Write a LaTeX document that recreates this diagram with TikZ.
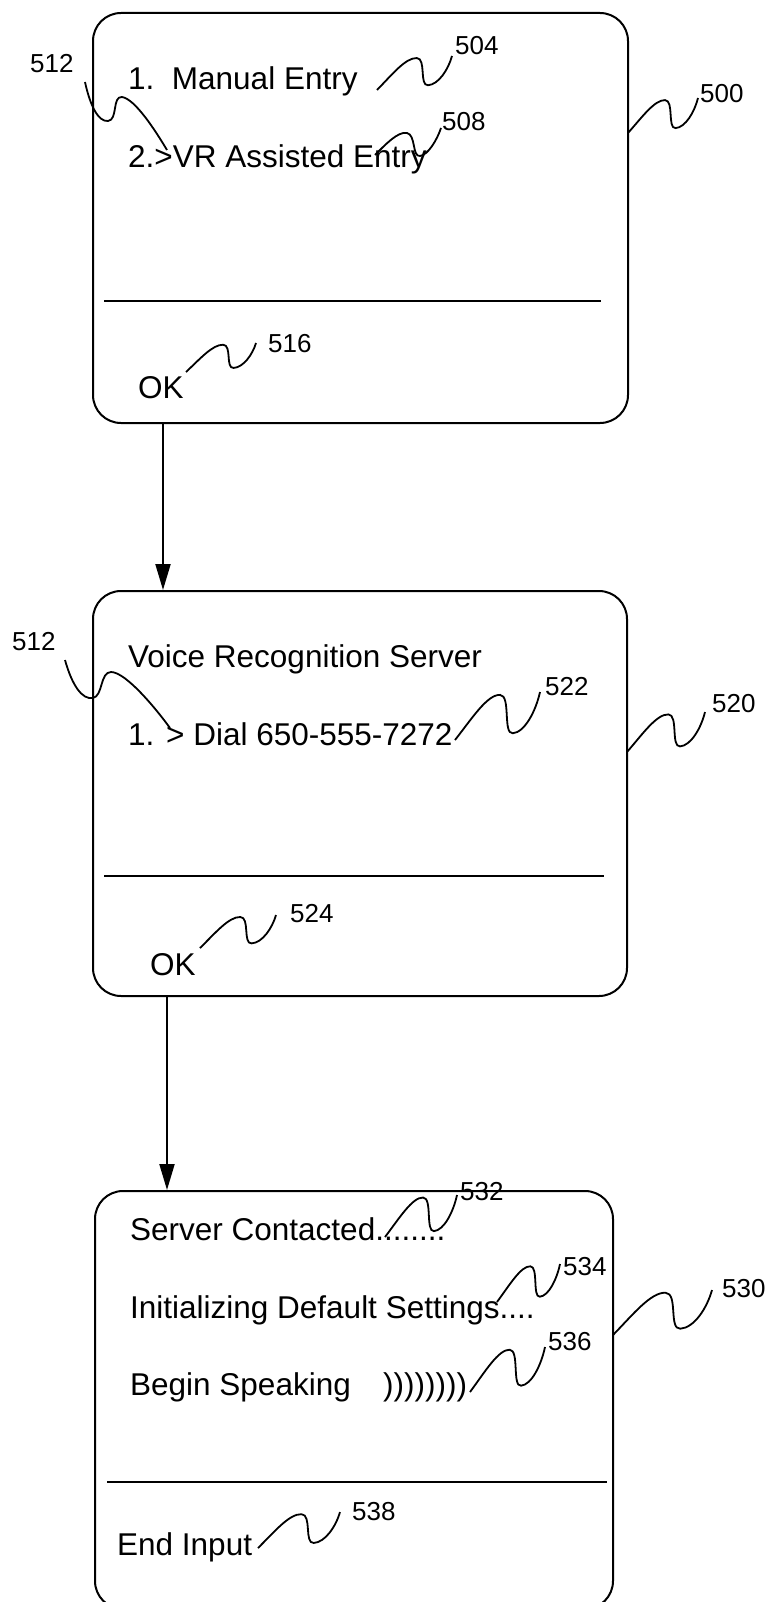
\documentclass[tikz,border=0pt]{standalone}
\usepackage{fontspec}
\setmainfont{Liberation Sans}
\usetikzlibrary{arrows.meta}
\tikzset{
  screen/.style={draw,line width=2pt,rounded corners=28pt,inner sep=0pt,anchor=north west},
  txt/.style={anchor=base west,inner sep=0pt,font=\fontsize{31.5}{36}\selectfont},
  lbl/.style={anchor=base west,inner sep=0pt,font=\fontsize{26}{30}\selectfont},
  leader/.style={line width=1.8pt},
  sepline/.style={line width=2pt},
  flow/.style={line width=2pt,-{Triangle[length=26pt,width=15pt]}},
  squig/.pic={\draw[leader] (0,0) .. controls (0.2,-0.45) and (0.38,-0.95) .. (0.53,-0.94)
     .. controls (0.66,-0.93) and (0.56,-0.12) .. (0.68,-0.14)
     .. controls (0.82,-0.16) and (0.95,-0.6) .. (1,-1);}
}
\newcommand\lead[4]{\pic[xscale={#3-#1},yscale={#2-#4}] at (#1,#2) {squig};}
\begin{document}
\begin{tikzpicture}[x=1pt,y=-1pt]
\useasboundingbox (0,0) rectangle (767,1602);
% screen 500
\node[screen,minimum width=535pt,minimum height=410pt] (s1) at (92,12) {};
\node[txt] (t504) at (128,90) {1.\ \ Manual Entry};
\node[txt] (t508) at (128,168) {2.>VR Assisted Entry};
\node[lbl] (n512a) at (30,73) {512};
\node[lbl] (n504) at (455,55) {504};
\node[lbl] (n508) at (442,131) {508};
\node[lbl] (n500) at (700,103) {500};
\node[lbl] (n516) at (268,352) {516};
\node[txt] (t516) at (138,398) {OK};
\draw[sepline] (104,301) -- (601,301);
\draw[leader] (85,82) .. controls (90,105) and (98,122) .. (108,121)
   .. controls (118,120) and (112,96) .. (122,97)
   .. controls (135,99) and (155,130) .. (167,150);
\lead{377}{90}{452}{56}
\draw[leader] (375,155) .. controls (385,145) and (398,131) .. (407,133)
   .. controls (416,135) and (412,157) .. (420,156)
   .. controls (428,155) and (437,140) .. (441,128);
\lead{628}{133}{698}{98}
\lead{186}{372}{256}{343}
% screen 520
\node[screen,minimum width=534pt,minimum height=405pt] (s2) at (92,590) {};
\node[txt] (t520) at (128,667) {Voice Recognition Server};
\node[txt] (t522) at (128,745) {1. > Dial 650-555-7272};
\node[lbl] (n512b) at (12,650) {512};
\node[lbl] (n522) at (545,695) {522};
\node[lbl] (n520) at (712,712) {520};
\node[lbl] (n524) at (290,922) {524};
\node[txt] (t524) at (150,975) {OK};
\draw[sepline] (104,876) -- (604,876);
\draw[leader] (65,660) .. controls (72,685) and (82,700) .. (93,698)
   .. controls (103,696) and (100,672) .. (111,672)
   .. controls (126,672) and (157,710) .. (170,728);
\lead{455}{740}{540}{692}
\lead{627}{752}{705}{712}
\lead{200}{948}{276}{915}
% screen 530
\node[screen,minimum width=518pt,minimum height=418pt] (s3) at (94,1190) {};
\node[txt] (t532) at (130,1240) {Server Contacted........};
\node[txt] (t534) at (130,1318) {Initializing Default Settings....};
\node[txt] (t536) at (130,1395) {Begin Speaking};
\node[txt] (t536b) at (383,1395) {))))))))};
\node[lbl] (n532) at (460,1200) {532};
\node[lbl] (n534) at (563,1275) {534};
\node[lbl] (n530) at (722,1297) {530};
\node[lbl] (n536) at (548,1350) {536};
\node[lbl] (n538) at (352,1520) {538};
\node[txt] (t538) at (117,1555) {End Input};
\draw[sepline] (107,1482) -- (607,1482);
\lead{385}{1237}{457}{1195}
\lead{497}{1302}{560}{1264}
\lead{613}{1335}{712}{1290}
\lead{470}{1392}{545}{1347}
\lead{258}{1548}{340}{1512}
% flow arrows
\draw[flow] ([xshift=71pt]s1.south west) -- ([xshift=71pt]s2.north west);
\draw[flow] ([xshift=75pt]s2.south west) -- ([xshift=73pt]s3.north west);
\end{tikzpicture}
\end{document}
